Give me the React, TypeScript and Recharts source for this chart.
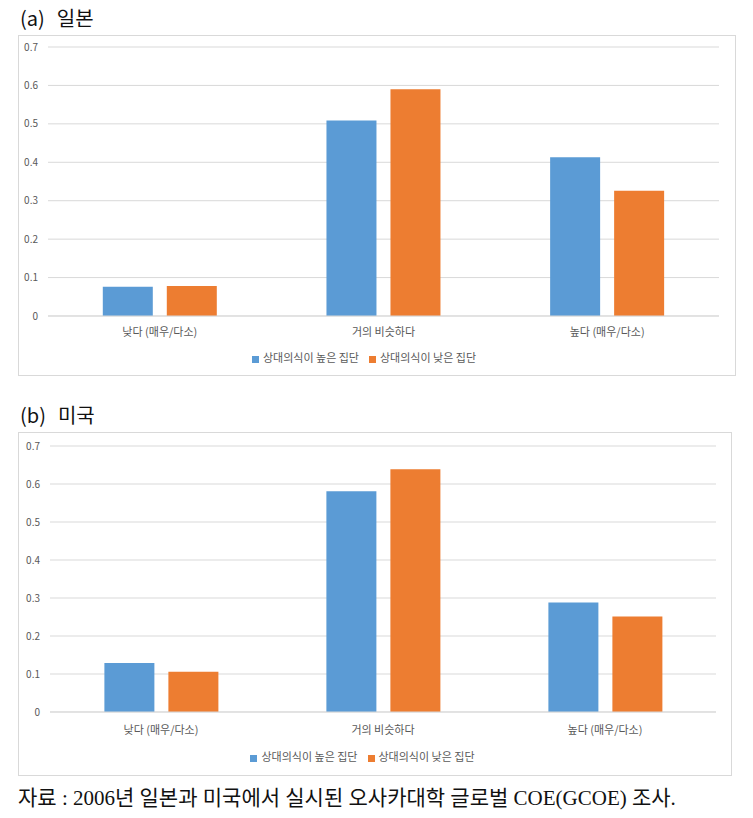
import { BarChart, Bar, XAxis, YAxis, CartesianGrid, Legend } from 'recharts'

const categories = ['낮다 (매우/다소)', '거의 비슷하다', '높다 (매우/다소)']
const seriesNames = ['상대의식이 높은 집단', '상대의식이 낮은 집단']
const japanHigh = [0.076, 0.509, 0.413]
const japanLow = [0.078, 0.59, 0.326]
const usHigh = [0.129, 0.581, 0.288]
const usLow = [0.106, 0.639, 0.251]
const yTicks = [0, 0.1, 0.2, 0.3, 0.4, 0.5, 0.6, 0.7]

const COLORS = ['#5B9BD5', '#ED7D31']
const FONT = '"Noto Sans CJK KR", "Noto Sans", sans-serif'

function buildRows(high: number[], low: number[]) {
  return categories.map((name, i) => ({ name, high: high[i], low: low[i] }))
}

interface PanelProps {
  title: string
  label: string
  high: number[]
  low: number[]
  left: number
  top: number
  width: number
  height: number
  plotTop: number
  plotLeft: number
  plotRight: number
  xHeight: number
  xMargin: number
  legendHeight: number
}

function Panel(p: PanelProps) {
  const data = buildRows(p.high, p.low)
  return (
    <>
      <div
        style={{
          position: 'absolute',
          left: 12,
          top: p.top - 29,
          fontFamily: FONT,
          fontSize: 20,
          color: '#111',
          lineHeight: '24px',
        }}
      >
        ({p.label})<span style={{ marginLeft: 12 }}>{p.title}</span>
      </div>
      <div
        style={{
          position: 'absolute',
          left: p.left,
          top: p.top,
          width: p.width,
          height: p.height,
          border: '1px solid #d9d9d9',
          boxSizing: 'border-box',
        }}
      >
        <BarChart
          width={p.width - 2}
          height={p.height - 2}
          data={data}
          barCategoryGap="24.5%"
          barGap={14}
          margin={{ top: p.plotTop, right: p.plotRight, left: 0, bottom: 0 }}
          style={{ fontFamily: FONT }}
        >
          <CartesianGrid vertical={false} stroke="#d9d9d9" />
          <XAxis
            dataKey="name"
            height={p.xHeight}
            tickSize={0}
            tickMargin={p.xMargin}
            axisLine={{ stroke: '#d9d9d9' }}
            tick={{ fill: '#595959', fontSize: 11 }}
          />
          <YAxis
            width={p.plotLeft}
            domain={[0, 0.7]}
            ticks={yTicks}
            tickSize={0}
            tickMargin={10}
            axisLine={false}
            tick={{ fill: '#595959', fontSize: 10 }}
          />
          <Legend
            verticalAlign="bottom"
            height={p.legendHeight}
            iconType="square"
            iconSize={7}
            itemSorter="dataKey"
            wrapperStyle={{ fontSize: 11 }}
            formatter={(v: string) => <span style={{ color: '#595959' }}>{v}</span>}
          />
          <Bar dataKey="high" name={seriesNames[0]} fill={COLORS[0]} isAnimationActive={false} />
          <Bar dataKey="low" name={seriesNames[1]} fill={COLORS[1]} isAnimationActive={false} />
        </BarChart>
      </div>
    </>
  )
}

export default function App() {
  return (
    <div style={{ position: 'relative', width: 745, height: 810, background: '#fff' }}>
      <Panel
        label="a"
        title="일본"
        high={japanHigh}
        low={japanLow}
        left={10}
        top={27}
        width={718}
        height={341}
        plotTop={11}
        plotLeft={29}
        plotRight={16}
        xHeight={33}
        xMargin={12}
        legendHeight={26}
      />
      <Panel
        label="b"
        title="미국"
        high={usHigh}
        low={usLow}
        left={10}
        top={424}
        width={714}
        height={344}
        plotTop={13}
        plotLeft={31}
        plotRight={15}
        xHeight={36}
        xMargin={14}
        legendHeight={27}
      />
      <div
        style={{
          position: 'absolute',
          left: 10,
          top: 773,
          fontFamily: '"Liberation Serif", "Noto Sans CJK KR", serif',
          fontSize: 21,
          color: '#111',
          whiteSpace: 'nowrap',
        }}
      >
        자료 : 2006년 일본과 미국에서 실시된 오사카대학 글로벌 COE(GCOE) 조사.
      </div>
    </div>
  )
}
